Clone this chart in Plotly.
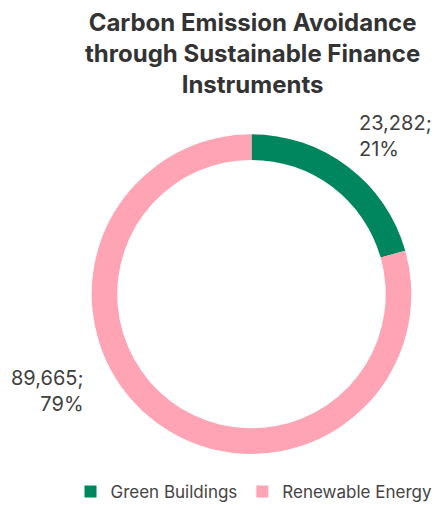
import plotly.graph_objects as go

categories = ["Green Buildings", "Renewable Energy"]
values = [23282, 89665]
colors = ["#00865F", "#FFA4B5"]

total = sum(values)
label_text = [f"{v:,};<br>{round(v / total * 100):.0f}%" for v in values]

W, H = 438, 510

fig = go.Figure(go.Pie(
    labels=categories,
    values=values,
    hole=0.84,
    sort=False,
    direction="clockwise",
    rotation=0,
    domain=dict(x=[88.5 / W, 414.5 / W], y=[1 - 463 / H, 1 - 137 / H]),
    marker=dict(colors=colors, line=dict(width=0)),
    textinfo="none",
    hoverinfo="label+value+percent",
))

# title as an annotation so the three lines sit where they should
fig.add_annotation(
    x=252 / W, y=1 - 6 / H, xref="paper", yref="paper",
    text="<b>Carbon Emission Avoidance<br>through Sustainable Finance<br>Instruments</b>",
    showarrow=False, align="center", xanchor="center", yanchor="top",
    font=dict(family="Inter", size=24, color="#333333"),
)

# data labels outside the ring
fig.add_annotation(
    x=357 / W, y=1 - 111 / H, xref="paper", yref="paper",
    text=label_text[0], showarrow=False, align="left",
    xanchor="left", yanchor="top",
    font=dict(family="Inter", size=20, color="#404040"),
)
fig.add_annotation(
    x=86 / W, y=1 - 371 / H, xref="paper", yref="paper",
    text=label_text[1], showarrow=False, align="right",
    xanchor="right", yanchor="top",
    font=dict(family="Inter", size=20, color="#404040"),
)

fig.update_layout(
    width=W,
    height=H,
    margin=dict(l=0, r=0, t=0, b=0),
    paper_bgcolor="white",
    plot_bgcolor="white",
    font=dict(family="Inter", color="#404040"),
    legend=dict(
        orientation="h",
        x=254 / W, xanchor="center",
        y=1 - 502 / H, yanchor="middle",
        font=dict(family="Inter", size=17, color="#444444"),
        itemwidth=30,
    ),
)

# page body has an 8px default margin; drop it so the figure fills the window
fig.write_html(
    "out.html",
    config={"displayModeBar": False},
    post_script="document.body.style.margin='0';",
)
